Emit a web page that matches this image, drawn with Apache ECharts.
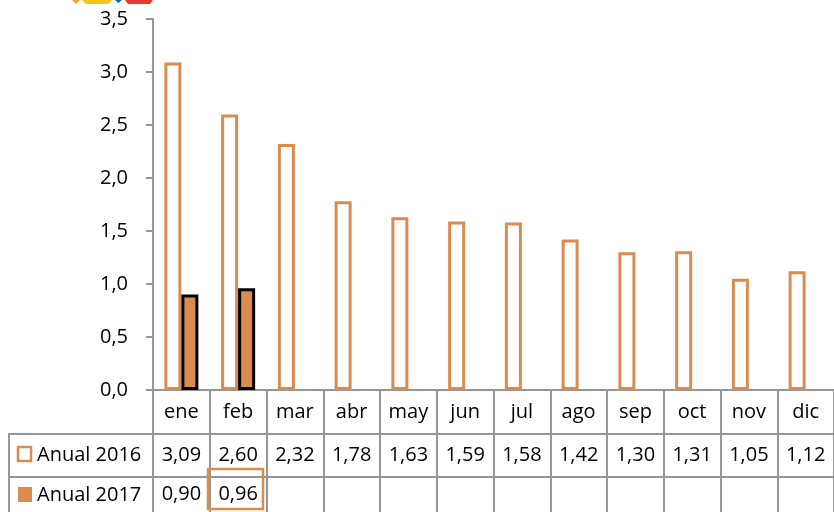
<!DOCTYPE html>
<html><head><meta charset="utf-8">
<script src="https://cdn.jsdelivr.net/npm/echarts@6/dist/echarts.min.js"></script>
<style>html,body{margin:0;padding:0;background:#fff}#c{width:834px;height:512px}</style>
</head><body><div id="c"></div>
<script>
const months = ['ene','feb','mar','abr','may','jun','jul','ago','sep','oct','nov','dic'];
const seriesNames = ['Anual 2016','Anual 2017'];
const anual2016 = [3.09,2.60,2.32,1.78,1.63,1.59,1.58,1.42,1.30,1.31,1.05,1.12];
const anual2017 = [0.90,0.96,null,null,null,null,null,null,null,null,null,null];
const yTicks = [0,0.5,1,1.5,2,2.5,3,3.5];

const FONT = 'Open Sans';
const ORANGE = '#D98C50';
const GRAY = '#969696';
const fmt = v => (v == null ? '' : v.toFixed(2).replace('.', ','));
const fmtY = v => v.toFixed(1).replace('.', ',');

const chart = echarts.init(document.getElementById('c'), null, {renderer:'canvas'});
const labelAxis = (margin, arr) => ({
  type:'category', data: months, position:'bottom', gridIndex:0,
  axisLine:{show:false}, axisTick:{show:false},
  axisLabel:{margin: margin, verticalAlign:'middle', fontFamily:FONT, fontSize:20, color:'#000',
    formatter:(v,i)=>fmt(arr[i])}
});
chart.setOption({
  animation:false,
  grid:{left:153, right:-3, top:19, bottom:122, containLabel:false},
  xAxis:[
    {type:'category', data: months, position:'bottom',
      axisLine:{show:true, lineStyle:{color:GRAY, width:2}},
      axisTick:{show:true, length:122, lineStyle:{color:GRAY, width:2}},
      axisLabel:{margin:22, verticalAlign:'middle', fontFamily:FONT, fontSize:20, color:'#000'}},
    labelAxis(65, anual2016),
    labelAxis(104, anual2017)
  ],
  yAxis:{type:'value', min:yTicks[0], max:yTicks[yTicks.length-1], interval:0.5,
    axisLine:{show:true, lineStyle:{color:GRAY, width:2}},
    axisTick:{show:true, length:7, lineStyle:{color:GRAY, width:2}},
    splitLine:{show:false},
    axisLabel:{margin:25, fontFamily:FONT, fontSize:20, color:'#000', formatter:fmtY}},
  series:[
    {name:seriesNames[0], type:'bar', data:anual2016, barWidth:17, barGap:'0%',
      itemStyle:{color:'#fff', borderColor:ORANGE, borderWidth:3}},
    {name:seriesNames[1], type:'bar', data:anual2017, barWidth:17, barGap:'0%',
      itemStyle:{color:ORANGE, borderColor:'#000', borderWidth:3}}
  ]
});

// table lines, legend keys and decorations
const lineStyle = {stroke:GRAY, lineWidth:2};
const g = [
  {type:'line', shape:{x1:8,y1:434,x2:834,y2:434}, style:lineStyle, z:10},
  {type:'line', shape:{x1:8,y1:477,x2:834,y2:477}, style:lineStyle, z:10},
  {type:'line', shape:{x1:9,y1:433,x2:9,y2:512}, style:lineStyle, z:10},
  {type:'rect', shape:{x:18,y:447,width:13,height:14}, style:{fill:'#fff', stroke:ORANGE, lineWidth:2.5}, z:10},
  {type:'text', x:37, y:455, style:{text:seriesNames[0], font:'20px "'+FONT+'"', fill:'#000', verticalAlign:'middle'}, z:10},
  {type:'rect', shape:{x:18,y:487,width:14,height:15}, style:{fill:ORANGE}, z:10},
  {type:'text', x:37, y:495, style:{text:seriesNames[1], font:'20px "'+FONT+'"', fill:'#000', verticalAlign:'middle'}, z:10},
  {type:'rect', shape:{x:208,y:469,width:55,height:40}, style:{fill:'none', stroke:ORANGE, lineWidth:2.5}, z:11},
  // logo fragments at top
  {type:'polygon', shape:{points:[[72,0],[80,0],[76,4]]}, style:{fill:'#F4A52A'}, z:10},
  {type:'polygon', shape:{points:[[82,0],[112,0],[108,4],[86,4]]}, style:{fill:'#F7C40F'}, z:10},
  {type:'polygon', shape:{points:[[115,0],[122,0],[118.5,3]]}, style:{fill:'#2060C0'}, z:10},
  {type:'polygon', shape:{points:[[125,0],[153,0],[150,4],[128,4]]}, style:{fill:'#E63B2E'}, z:10}
];
chart.setOption({graphic:g});
</script></body></html>
